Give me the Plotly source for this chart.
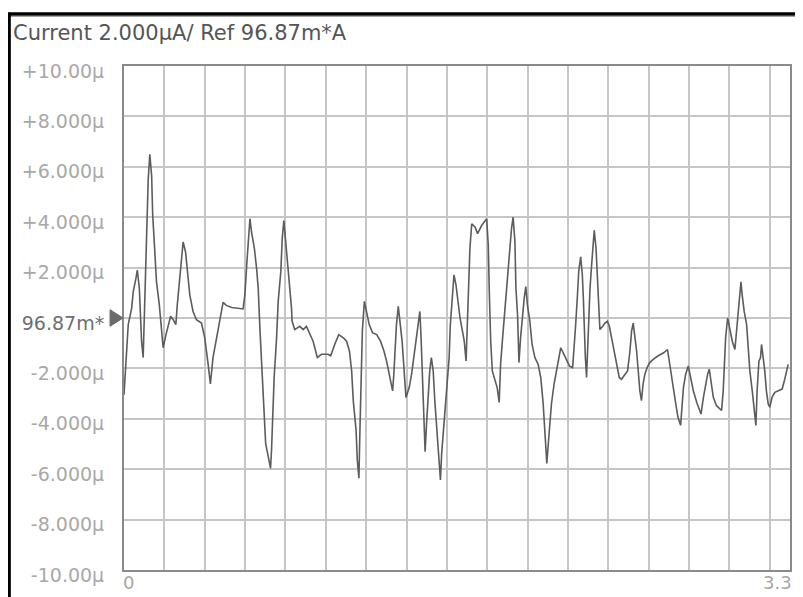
import plotly.graph_objects as go

# ---- data (time axis 0..3.3, current in µA relative to reference) ----
time_vals = [
    0.000, 0.013, 0.021, 0.038, 0.046, 0.059, 0.066, 0.076, 0.082, 0.087,
    0.095, 0.099, 0.105, 0.112, 0.120, 0.128, 0.137, 0.142, 0.153, 0.161,
    0.175, 0.186, 0.194, 0.208, 0.219, 0.231, 0.244, 0.257, 0.264, 0.277,
    0.285, 0.293, 0.305, 0.315, 0.326, 0.342, 0.359, 0.384, 0.400, 0.417,
    0.428, 0.441, 0.458, 0.474, 0.491, 0.507, 0.534, 0.590, 0.599, 0.608,
    0.619, 0.624, 0.632, 0.646, 0.657, 0.665, 0.674, 0.685, 0.693, 0.702,
    0.715, 0.726, 0.731, 0.736, 0.744, 0.756, 0.764, 0.777, 0.784, 0.792,
    0.800, 0.810, 0.822, 0.830, 0.833, 0.846, 0.871, 0.888, 0.904, 0.921,
    0.937, 0.958, 0.978, 1.011, 1.024, 1.044, 1.064, 1.087, 1.103, 1.117,
    1.128, 1.136, 1.150, 1.156, 1.164, 1.169, 1.174, 1.181, 1.191, 1.202,
    1.215, 1.232, 1.252, 1.271, 1.288, 1.301, 1.321, 1.331, 1.337, 1.342,
    1.350, 1.359, 1.367, 1.378, 1.387, 1.397, 1.403, 1.413, 1.425, 1.436,
    1.446, 1.458, 1.466, 1.472, 1.479, 1.486, 1.492, 1.499, 1.507, 1.515,
    1.523, 1.532, 1.540, 1.548, 1.560, 1.568, 1.574, 1.584, 1.597, 1.611,
    1.617, 1.627, 1.635, 1.645, 1.653, 1.665, 1.677, 1.686, 1.695, 1.700,
    1.706, 1.714, 1.723, 1.739, 1.752, 1.772, 1.797, 1.805, 1.810, 1.817,
    1.825, 1.838, 1.849, 1.859, 1.866, 1.876, 1.887, 1.899, 1.909, 1.920,
    1.928, 1.937, 1.942, 1.950, 1.957, 1.965, 1.983, 1.991, 1.999, 2.011,
    2.022, 2.036, 2.052, 2.065, 2.077, 2.085, 2.095, 2.105, 2.118, 2.131,
    2.143, 2.154, 2.164, 2.180, 2.194, 2.207, 2.223, 2.230, 2.238, 2.246,
    2.253, 2.263, 2.271, 2.276, 2.281, 2.286, 2.292, 2.297, 2.304, 2.309,
    2.317, 2.325, 2.330, 2.339, 2.345, 2.352, 2.358, 2.372, 2.383, 2.395,
    2.405, 2.416, 2.429, 2.441, 2.454, 2.465, 2.482, 2.495, 2.507, 2.515,
    2.523, 2.531, 2.540, 2.548, 2.556, 2.564, 2.572, 2.581, 2.592, 2.605,
    2.622, 2.647, 2.674, 2.693, 2.704, 2.712, 2.721, 2.734, 2.745, 2.758,
    2.772, 2.783, 2.796, 2.810, 2.821, 2.838, 2.859, 2.871, 2.882, 2.892,
    2.900, 2.908, 2.920, 2.936, 2.961, 2.969, 2.974, 2.981, 2.991, 3.002,
    3.014, 3.027, 3.035, 3.043, 3.052, 3.057, 3.063, 3.073, 3.085, 3.093,
    3.101, 3.113, 3.123, 3.131, 3.137, 3.146, 3.154, 3.159, 3.167, 3.175,
    3.183, 3.192, 3.200, 3.211, 3.225, 3.241, 3.261, 3.274, 3.282, 3.291,
]
current_vals = [
    -3.05, -1.05, -0.26, 0.39, 1.05, 1.57, 1.90, 1.18, -0.26, -0.92,
    -1.57, -0.52, 1.44, 3.41, 5.51, 6.50, 5.64, 4.13, 2.62, 1.44,
    0.52, -0.66, -1.18, -0.66, -0.26, 0.07, -0.07, -0.26, 0.52, 1.57,
    2.23, 3.02, 2.62, 1.90, 0.92, 0.26, -0.07, -0.20, -0.79, -1.84,
    -2.62, -1.57, -0.79, 0.00, 0.62, 0.50, 0.42, 0.36, 0.92, 2.10,
    3.28, 3.94, 3.41, 2.76, 1.97, 1.18, -0.52, -2.23, -3.94, -4.99,
    -5.51, -5.97, -5.25, -3.94, -2.36, -0.79, 0.66, 1.84, 3.15, 3.87,
    3.15, 2.36, 1.31, 0.39, -0.13, -0.46, -0.33, -0.46, -0.33, -0.66,
    -0.92, -1.57, -1.44, -1.44, -1.50, -1.05, -0.66, -0.79, -0.92, -1.31,
    -2.10, -3.28, -4.46, -5.64, -6.36, -4.46, -2.89, -0.52, 0.66, 0.26,
    -0.26, -0.59, -0.66, -0.92, -1.31, -1.71, -2.43, -2.89, -2.23, -1.25,
    -0.26, 0.46, -0.13, -0.92, -1.97, -3.15, -3.02, -2.76, -2.23, -1.57,
    -0.79, -0.13, 0.26, -0.79, -2.23, -4.20, -5.31, -4.20, -3.02, -2.10,
    -1.57, -2.10, -3.28, -4.20, -5.77, -6.43, -5.38, -4.33, -3.02, -1.57,
    -0.26, 1.05, 1.71, 1.31, 0.79, 0.00, -0.52, -0.92, -1.71, -0.26,
    1.05, 2.76, 3.74, 3.61, 3.35, 3.67, 3.94, 2.89, 1.05, -0.92,
    -2.10, -2.49, -2.76, -3.35, -1.84, -0.79, 0.39, 1.44, 2.49, 3.54,
    4.00, 3.02, 1.18, 0.13, -1.77, -0.79, 0.79, 1.25, 0.52, -0.13,
    -1.05, -1.57, -1.84, -2.36, -3.41, -4.46, -5.77, -4.72, -3.41, -2.62,
    -2.10, -1.57, -1.18, -1.44, -1.71, -1.90, -1.97, -1.31, -0.26, 0.79,
    1.84, 2.43, 1.71, 0.79, -0.52, -1.57, -2.36, -1.18, -0.13, 1.18,
    2.10, 2.82, 3.48, 2.76, 1.57, 0.26, -0.46, -0.33, -0.20, -0.13,
    -0.33, -0.79, -1.31, -1.84, -2.36, -2.43, -2.23, -2.10, -1.31, -0.52,
    -0.20, -0.66, -1.31, -2.10, -2.89, -3.28, -2.62, -2.23, -1.97, -1.77,
    -1.64, -1.50, -1.38, -1.25, -1.84, -2.36, -2.89, -3.41, -3.94, -4.26,
    -2.76, -2.23, -1.90, -2.49, -2.89, -3.35, -3.81, -3.15, -2.62, -2.23,
    -2.03, -2.49, -3.15, -3.48, -3.67, -2.89, -1.84, -0.79, 0.00, -0.52,
    -0.92, -1.25, -0.52, 0.26, 1.05, 1.44, 0.92, 0.26, -0.26, -1.18,
    -2.10, -2.89, -3.67, -4.26, -2.89, -1.71, -1.57, -1.05, -1.57, -2.10,
    -2.89, -3.41, -3.54, -3.15, -2.95, -2.89, -2.82, -2.43, -2.10, -1.84,
]

y_tick_vals = [10, 8, 6, 4, 2, 0, -2, -4, -6, -8, -10]
y_tick_text = ["+10.00\u00b5", "+8.000\u00b5", "+6.000\u00b5", "+4.000\u00b5", "+2.000\u00b5",
               '<span style="color:#6e6e6e">96.87m*</span>',
               "-2.000\u00b5", "-4.000\u00b5", "-6.000\u00b5", "-8.000\u00b5", "-10.00\u00b5"]
x_start_label = "0"
x_end_label = "3.3"
title_text = "Current 2.000\u00b5A/ Ref 96.87m*A"

FONT = "DejaVu Sans"
W, H = 795, 589          # page body has an 8px margin
L, T, R, B = 116, 58, 11, 23
PW, PH = W - L - R, H - T - B


def px(fx):
    return (fx - L) / PW


def py(fy):
    return (H - B - fy) / PH


fig = go.Figure()
fig.add_trace(go.Scatter(
    x=time_vals, y=current_vals, mode="lines",
    line=dict(color="#5c5c5c", width=1.6),
    showlegend=False, hoverinfo="skip",
))

fig.update_layout(
    width=W, height=H,
    margin=dict(l=L, r=R, t=T, b=B),
    paper_bgcolor="white", plot_bgcolor="white",
    title=dict(text=title_text, x=5 / W, xanchor="left", xref="container",
               y=1 - 25 / H, yanchor="middle", yref="container",
               font=dict(family=FONT, size=21, color="#555555")),
    xaxis=dict(range=[0, 3.3], tick0=0, dtick=0.2, showticklabels=False,
               showgrid=True, gridcolor="#c6c6c6", gridwidth=2, zeroline=False,
               showline=True, linecolor="#8a8a8a", linewidth=2, mirror=True,
               ticks=""),
    yaxis=dict(range=[-10, 10], tickvals=y_tick_vals, ticktext=y_tick_text,
               showgrid=True, gridcolor="#c6c6c6", gridwidth=2, zeroline=False,
               showline=True, linecolor="#8a8a8a", linewidth=2, mirror=True,
               ticks="", ticklabelstandoff=14, ticklabelshift=5,
               tickfont=dict(family=FONT, size=19, color="#a8a8a8")),
    shapes=[
        # outer black frame (top and left)
        dict(type="line", xref="paper", yref="paper", x0=px(0), x1=px(W + 5),
             y0=py(5.5), y1=py(5.5), line=dict(color="black", width=3.5)),
        dict(type="line", xref="paper", yref="paper", x0=px(0), x1=px(W + 5),
             y0=py(8), y1=py(8), line=dict(color="#999999", width=1)),
        dict(type="line", xref="paper", yref="paper", x0=px(1), x1=px(1),
             y0=py(H + 5), y1=py(4), line=dict(color="black", width=3)),
        # reference marker triangle
        dict(type="path", xref="paper", yref="y",
             path=f"M {px(102)},0.33 L {px(115)},0 L {px(102)},-0.33 Z",
             fillcolor="#6a6a6a", line=dict(color="#6a6a6a", width=1)),
    ],
    annotations=[
        dict(text=x_start_label, x=0, xref="x", xanchor="left", xshift=-3,
             y=py(579), yref="paper", yanchor="middle", showarrow=False,
             font=dict(family=FONT, size=18, color="#a6a6a6")),
        dict(text=x_end_label, x=3.3, xref="x", xanchor="right", xshift=4,
             y=py(579), yref="paper", yanchor="middle", showarrow=False,
             font=dict(family=FONT, size=18, color="#a6a6a6")),
    ],
)

fig.write_html("out.html")
